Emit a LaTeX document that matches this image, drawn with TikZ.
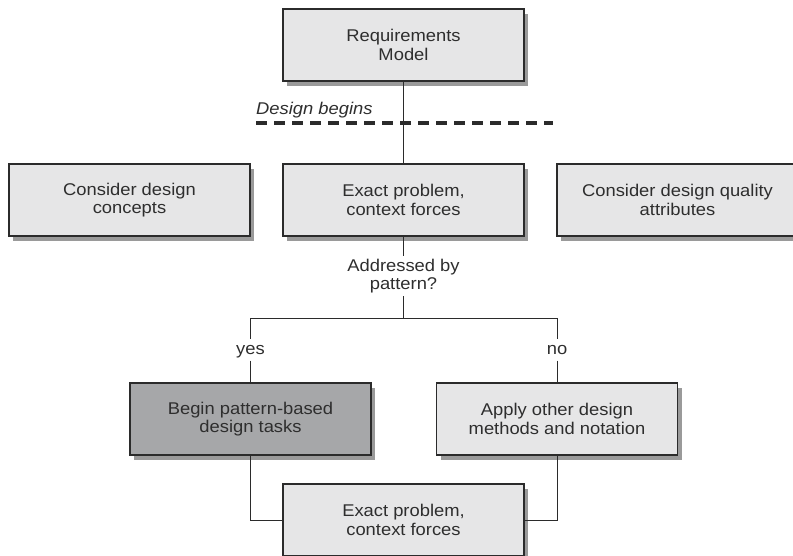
\documentclass[tikz,border=0pt]{standalone}
\usepackage{fontspec}
\setmainfont{Liberation Sans}[FakeStretch=1.08]
\usetikzlibrary{shadows}
\definecolor{boxfill}{HTML}{E6E6E7}
\definecolor{darkfill}{HTML}{A6A7A9}
\definecolor{shadowgray}{HTML}{9A9A9A}
\definecolor{edge}{HTML}{2B2B2B}
\definecolor{txt}{HTML}{2E2E2E}
\begin{document}
\begin{tikzpicture}[x=1pt,y=-1pt,
  box/.style={draw=edge, line width=1.3pt, fill=boxfill, minimum width=241pt, minimum height=72pt,
    inner sep=0pt, align=center, font=\fontsize{17}{18.5}\selectfont, text=txt,
    drop shadow={shadow xshift=4pt, shadow yshift=-5pt, fill=shadowgray, opacity=1}},
  darkbox/.style={box, fill=darkfill},
  lbl/.style={inner sep=0pt, font=\fontsize{17}{18.5}\selectfont, text=txt, align=center},
  conn/.style={draw=edge, line width=1pt}]
\useasboundingbox (0,0) rectangle (793,556);
\clip (0,0) rectangle (793,556);
\node[box] (req) at (403.5,45) {Requirements\\Model};
\node[box] (concepts) at (129.5,200) {Consider design\\concepts};
\node[box] (exact1) at (403.5,200) {Exact problem,\\context forces};
\node[box] (quality) at (677.5,200) {Consider design quality\\attributes};
\node[darkbox] (pattern) at (250.5,419) {Begin pattern-based\\design tasks};
\node[box] (other) at (557,419) {Apply other design\\methods and notation};
\node[box] (exact2) at (403.5,520) {Exact problem,\\context forces};
\node[lbl] (addr) at (403.5,276) {Addressed by\\pattern?};
\node[lbl, text height=12pt, text depth=3pt] (yes) at (250.5,350) {yes};
\node[lbl, text height=12pt, text depth=3pt] (no) at (557,350) {no};
\node[lbl, anchor=base west, font=\fontsize{17}{18.5}\itshape] (begins) at (256,115) {Design begins};
\coordinate (dl) at (256,123);
\coordinate (dr) at (553,123);
\draw[edge, line width=3.2pt, dash pattern=on 11pt off 7pt] (dl) -- (dr);
\draw[conn] (req.south) -- (exact1.north);
\draw[conn] (exact1.south) -- ([yshift=3pt]addr.north);
\coordinate (split) at (403.5,318);
\coordinate (splitl) at (250.5,318);
\coordinate (splitr) at (557,318);
\draw[conn] ([yshift=-3pt]addr.south) -- (split);
\draw[conn] (splitl) -- (splitr);
\draw[conn] (splitl) -- ([yshift=3pt]yes.north);
\draw[conn] ([yshift=-3pt]yes.south) -- (pattern.north);
\draw[conn] (splitr) -- ([yshift=3pt]no.north);
\draw[conn] ([yshift=-3pt]no.south) -- (other.north);
\draw[conn] (pattern.south) |- (exact2.west);
\draw[conn] (other.south) |- (exact2.east);
\end{tikzpicture}
\end{document}
